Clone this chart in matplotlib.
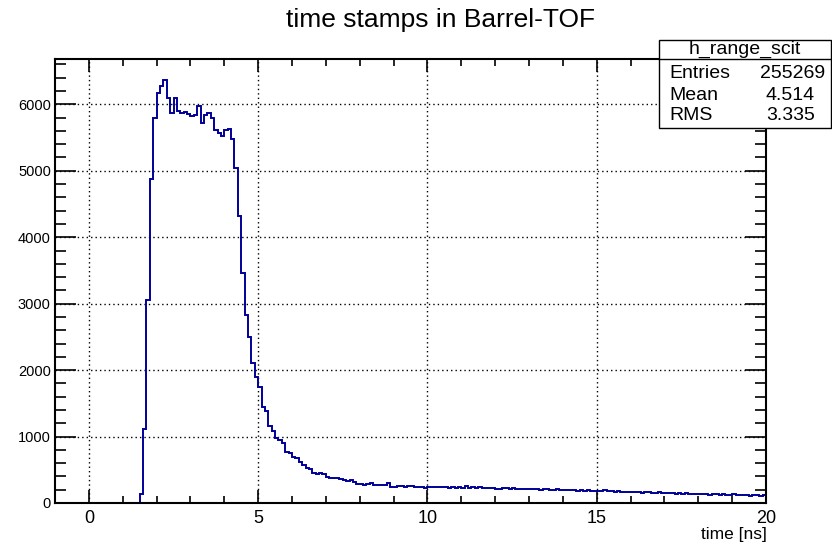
import matplotlib
matplotlib.use('Agg')
import matplotlib.pyplot as plt
from matplotlib.patches import Rectangle
from matplotlib.lines import Line2D
from matplotlib.ticker import MultipleLocator
import numpy as np

plt.rcParams['font.family'] = ['Liberation Sans', 'DejaVu Sans']

# histogram h_range_scit, 0.1 ns bins starting at 1.5 ns
bin_start = 1.5
bin_width = 0.1
counts_rise = [135, 1109, 3055, 4876, 5798, 6165, 6280, 6365, 6090, 5873,
               6095, 5904, 5864, 5884, 5854, 5824, 5839, 5974, 5723, 5839,
               5873, 5789, 5613, 5563, 5528, 5613, 5633, 5482, 5037, 4324]
counts_fall = [3457, 2829, 2493, 2102, 1900, 1740, 1445, 1380, 1155, 1080,
               973, 948, 898, 772, 747, 697, 672, 622, 572, 522,
               507, 447, 432, 456, 432, 396, 381, 381, 371, 361,
               346, 331, 346, 321, 286]
counts_tail = [281, 276, 281, 296, 271, 276, 271, 276, 296, 246,
               241, 256, 251, 246, 251, 251, 241, 246, 236, 231,
               246, 241, 236, 241, 236, 236, 231, 236, 226, 246,
               221, 251, 226, 236, 231, 241, 226, 231, 221, 226,
               211, 216, 221, 226, 216, 221, 211, 216, 206, 211,
               206, 211, 216, 201, 206, 211, 196, 201, 206, 191,
               196, 201, 191, 196, 186, 191, 181, 196, 186, 181,
               186, 181, 191, 176, 181, 171, 176, 166, 171, 166,
               171, 161, 166, 156, 161, 166, 151, 156, 161, 151,
               146, 156, 146, 141, 151, 136, 146, 141, 136, 141,
               131, 136, 141, 126, 131, 136, 126, 131, 121, 126,
               131, 116, 121, 126, 116, 111, 121, 116, 111, 116]

stats_name = 'h_range_scit'
stats_labels = ['Entries', 'Mean', 'RMS']
stats_values = ['255269', '4.514', '3.335']

counts = np.array(counts_rise + counts_fall + counts_tail)
edges = bin_start + bin_width * np.arange(len(counts) + 1)

W, H = 832, 548
fig = plt.figure(figsize=(W / 100, H / 100), dpi=100)
fig.patch.set_facecolor('white')

def fx(px):
    return px / W

def fy(py):
    return 1 - py / H

ax = fig.add_axes([fx(55), fy(503), fx(766) - fx(55), fy(59) - fy(503)])
ax.stairs(counts, edges, color='#000099', linewidth=1.4, baseline=0)

ax.set_xlim(-1, 20)
ax.set_ylim(0, 6682)
ax.xaxis.set_major_locator(MultipleLocator(5))
ax.xaxis.set_minor_locator(MultipleLocator(1))
ax.yaxis.set_major_locator(MultipleLocator(1000))
ax.yaxis.set_minor_locator(MultipleLocator(200))

ax.grid(True, which='major', color='black', linestyle=(0, (1, 2.2)), linewidth=1.0)
ax.set_axisbelow(True)

ax.tick_params(axis='both', which='both', direction='in', top=True, right=True,
               color='black', width=1.2)
ax.tick_params(axis='x', which='major', length=9.6, labelsize=13, pad=5)
ax.tick_params(axis='x', which='minor', length=4.8)
ax.tick_params(axis='y', which='major', length=15, labelsize=10.5, pad=3)
ax.tick_params(axis='y', which='minor', length=7.6)
for s in ax.spines.values():
    s.set_linewidth(1.5)

fig.text(fx(441), fy(20), 'time stamps in Barrel-TOF', ha='center', va='center', fontsize=19)
fig.text(fx(767), fy(535), 'time [ns]', ha='right', va='center', fontsize=12.5)

# stats box
box = Rectangle((fx(659), fy(128)), fx(831) - fx(659), fy(40) - fy(128),
                transform=fig.transFigure, facecolor='white', edgecolor='black',
                linewidth=1.0, zorder=5)
fig.add_artist(box)
fig.add_artist(Line2D([fx(659), fx(831)], [fy(59), fy(59)], transform=fig.transFigure,
                      color='black', linewidth=1.0, zorder=6))
fig.text(fx(745), fy(49), stats_name, ha='center', va='center', fontsize=14, zorder=7)
rows_y = [74, 95, 115]
values_x = [825, 815, 815]
for lab, val, ry, vx in zip(stats_labels, stats_values, rows_y, values_x):
    fig.text(fx(669), fy(ry), lab, ha='left', va='center', fontsize=14, zorder=7)
    fig.text(fx(vx), fy(ry), val, ha='right', va='center', fontsize=14, zorder=7)

fig.savefig('out.png', dpi=100)
